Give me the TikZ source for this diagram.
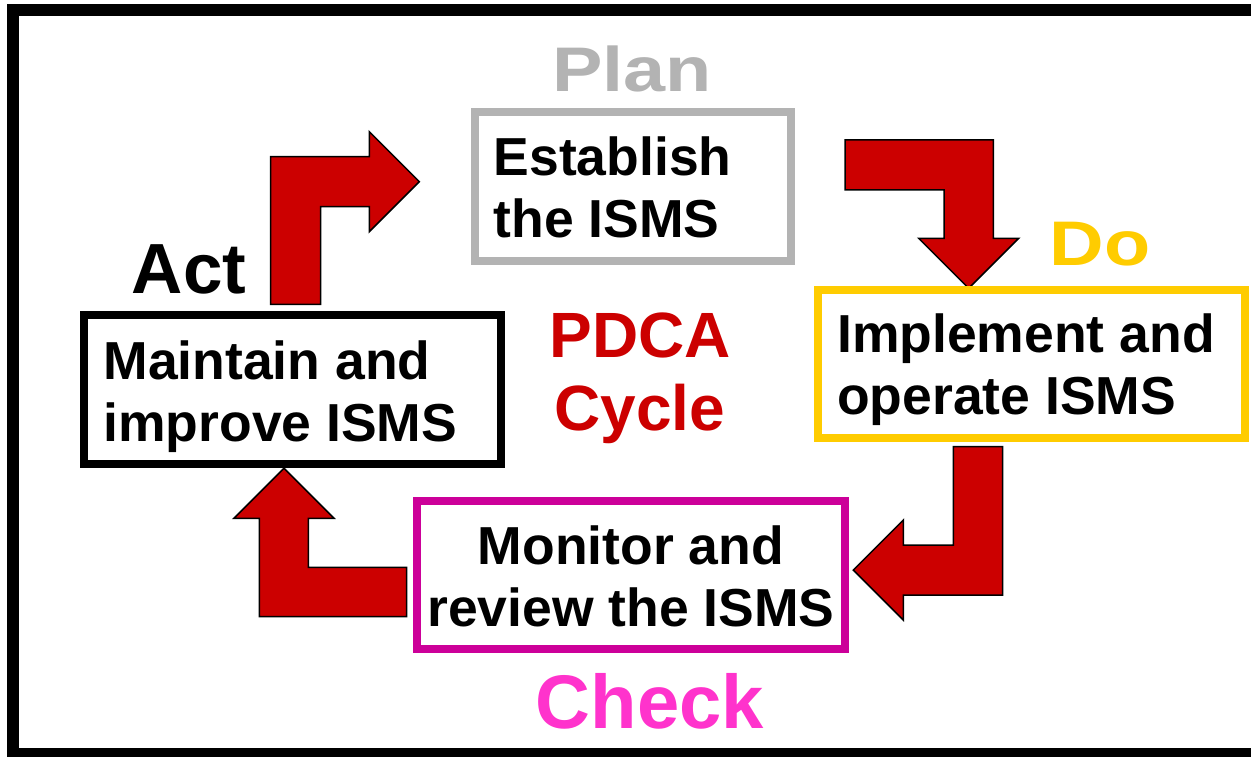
\documentclass[tikz,border=0pt]{standalone}
\usepackage{fontspec}
\setmainfont{Liberation Sans}
\usepackage{graphicx}
\definecolor{pdcared}{HTML}{CC0000}
\definecolor{plangray}{HTML}{B3B3B3}
\definecolor{doyellow}{HTML}{FFCC00}
\definecolor{checkmag}{HTML}{CC0099}
\definecolor{checkpink}{HTML}{FF33CC}
\begin{document}
\begin{tikzpicture}[x=1pt,y=-1pt,
  box/.style={draw, rectangle, line width=8pt, inner sep=0pt, fill=white},
  boxtext/.style={inner sep=0pt, text=black, font=\fontsize{53.5}{62}\selectfont\bfseries},
  bigarrow/.style={fill=pdcared, draw=black, line width=1.5pt, line join=miter},
  phase/.style={inner sep=0pt, anchor=base, font=\bfseries}
]
\useasboundingbox (0,0) rectangle (1251,757);
\fill[white] (0,0) rectangle (1251,757);
\begin{scope}
  \clip (0,0) rectangle (1251,757);
  \draw[line width=12pt] (13,10) rectangle (1270,754);
\end{scope}

% block arrows
\draw[bigarrow] (270.7,304.3) -- (270.7,156.7) -- (369.3,156.7) -- (369.3,131.7)
  -- (419.3,181.7) -- (369.3,231.7) -- (369.3,206.7) -- (320.7,206.7) -- (320.7,304.3) -- cycle;
\draw[bigarrow] (845,140) -- (993.3,140) -- (993.3,238.3) -- (1018.7,238.3)
  -- (968.7,288.3) -- (918.7,238.3) -- (944,238.3) -- (944,190) -- (845,190) -- cycle;
\draw[bigarrow] (1002.7,446.7) -- (1002.7,595) -- (903.3,595) -- (903.3,620)
  -- (853.3,570) -- (903.3,520) -- (903.3,545) -- (953.3,545) -- (953.3,446.7) -- cycle;
\draw[bigarrow] (406.7,616.7) -- (259.3,616.7) -- (259.3,518.3) -- (234,518.3)
  -- (284,468.3) -- (334,518.3) -- (308.3,518.3) -- (308.3,567.3) -- (406.7,567.3) -- cycle;

% boxes
\node[box, draw=plangray, minimum width=316pt, minimum height=149pt] (plan) at (633,186.5) {};
\node[box, draw=black, minimum width=417pt, minimum height=149pt] (act) at (292.5,389.3) {};
\node[box, draw=doyellow, minimum width=427pt, minimum height=148pt] (do) at (1031.5,363.5) {};
\node[box, draw=checkmag, minimum width=428pt, minimum height=148pt] (check) at (630.8,574.9) {};

% box texts (base anchor = baseline of the last line)
\node[boxtext, anchor=base west, align=left] (plantext) at (493.5,237.5) {Establish\\the ISMS};
\node[boxtext, anchor=base west, align=left] (acttext) at (103.3,441.7) {Maintain and\\improve ISMS};
\node[boxtext, anchor=base west, align=left] (dotext) at (837,414) {Implement and\\operate ISMS};
\node[boxtext, anchor=base, align=center] (checktext) at (631,626.7) {Monitor and\\review the ISMS};

% phase labels
\node[phase, text=plangray, font=\fontsize{63}{70}\selectfont\bfseries] (planlabel) at (632,91.7) {\scalebox{1.2}[1]{Plan}};
\node[phase, text=doyellow, font=\fontsize{63}{70}\selectfont\bfseries] (dolabel) at (1100,265) {\scalebox{1.2}[1]{Do}};
\node[phase, text=black, font=\fontsize{71}{80}\selectfont\bfseries] (actlabel) at (189,293.3) {Act};
\node[phase, text=checkpink, font=\fontsize{76}{85}\selectfont\bfseries] (checklabel) at (650,728.3) {Check};
\node[phase, text=pdcared, align=center, font=\fontsize{64}{73}\selectfont\bfseries] (pdca) at (640,430) {PDCA\\Cycle};
\end{tikzpicture}
\end{document}
